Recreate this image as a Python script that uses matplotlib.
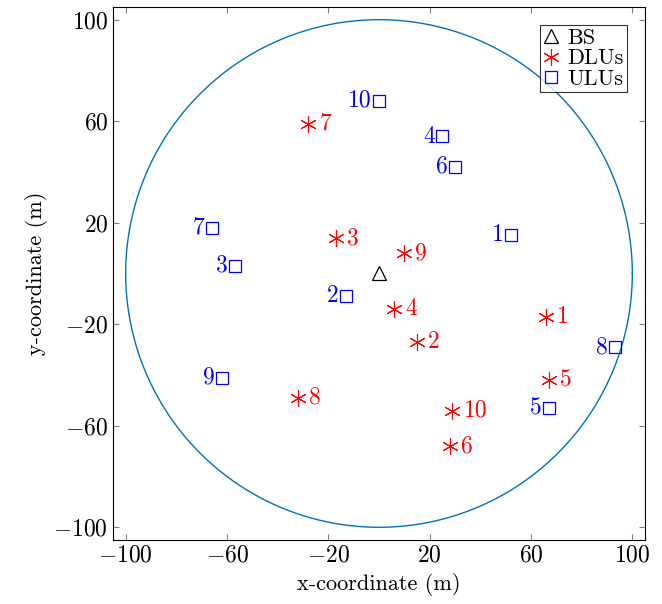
import numpy as np
import matplotlib
matplotlib.use("Agg")
import matplotlib.pyplot as plt

plt.rcParams['font.family'] = 'serif'
plt.rcParams['font.serif'] = ['cmr10']
plt.rcParams['mathtext.fontset'] = 'cm'
plt.rcParams['axes.formatter.use_mathtext'] = True

# positions (m)
bs = (0, 0)
dlu_x = [66, 15, -17, 6, 67, 28, -28, -32, 10, 29]
dlu_y = [-17, -27, 14, -14, -42, -68, 59, -49, 8, -54]
ulu_x = [52, -13, -57, 25, 67, 30, -66, 93, -62, 0]
ulu_y = [15, -9, 3, 54, -53, 42, 18, -29, -41, 68]
radius = 100

fig = plt.figure(figsize=(6.62, 6.04), dpi=100)
ax = fig.add_axes([0.1707, 0.106, 0.8036, 0.8824])

t = np.linspace(0, 2 * np.pi, 400)
ax.plot(radius * np.cos(t), radius * np.sin(t), color=(0, 0.447, 0.741), lw=1)

ax.plot(*bs, '^', ms=10, mfc='none', mec='black', mew=0.9, label='BS')
ax.plot(dlu_x, dlu_y, marker=(6, 2, 0), ls='none', ms=12, color='red', mew=0.8, label='DLUs')
ax.plot(ulu_x, ulu_y, 's', ls='none', ms=9, mfc='none', mec='blue', mew=0.9, label='ULUs')

for i, (x, y) in enumerate(zip(dlu_x, dlu_y)):
    ax.annotate(str(i + 1), (x, y), xytext=(8, 0), textcoords='offset points',
                color='red', fontsize=17, va='center', ha='left')
for i, (x, y) in enumerate(zip(ulu_x, ulu_y)):
    ax.annotate(str(i + 1), (x, y), xytext=(-5, 0), textcoords='offset points',
                color='blue', fontsize=17, va='center', ha='right')

ax.set_xlim(-105, 105)
ax.set_ylim(-105, 105)
ax.set_xticks([-100, -60, -20, 20, 60, 100])
ax.set_yticks([-100, -60, -20, 20, 60, 100])
ax.tick_params(direction='in', top=True, right=True, labelsize=17, color='gray', length=4)
ax.set_xlabel('x-coordinate (m)', fontsize=16)
ax.set_ylabel('y-coordinate (m)', fontsize=16)

leg = ax.legend(loc='upper right', fontsize=16, frameon=True, fancybox=False,
                edgecolor='black', handlelength=0.7, handletextpad=0.4,
                borderpad=0.15, labelspacing=0.05, borderaxespad=0.8)
leg.get_frame().set_linewidth(0.8)

fig.savefig('out.png', dpi=100)
